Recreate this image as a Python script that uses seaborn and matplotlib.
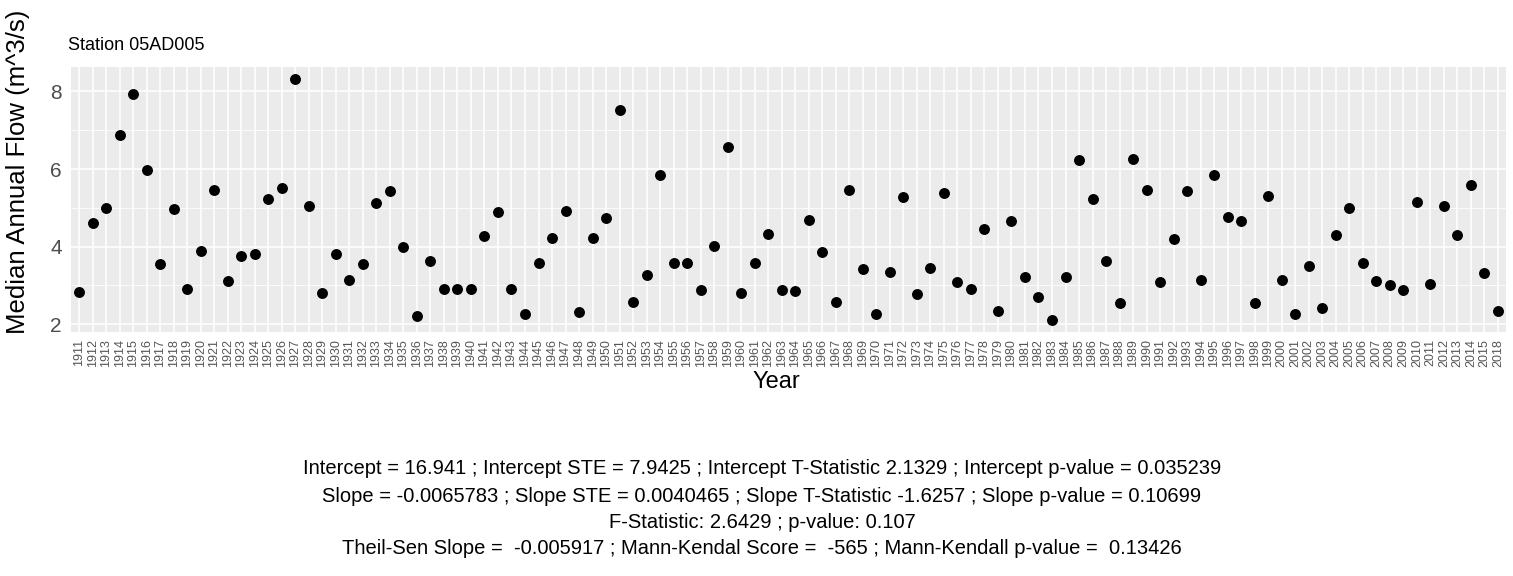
import matplotlib
matplotlib.use("Agg")
import matplotlib.pyplot as plt
import seaborn as sns
import pandas as pd

# Annual median flow, station 05AD005
years = [str(y) for y in range(1911, 2016)] + ["2018"]
flows = [
    2.84, 4.62, 5.00, 6.88, 7.93, 5.97, 3.54, 4.97, 2.92, 3.89,   # 1911-1920
    5.46, 3.12, 3.77, 3.81, 5.23, 5.51, 8.32, 5.04, 2.80, 3.80,   # 1921-1930
    3.15, 3.54, 5.12, 5.43, 4.00, 2.20, 3.62, 2.92, 2.92, 2.90,   # 1931-1940
    4.27, 4.89, 2.92, 2.26, 3.58, 4.23, 4.92, 2.31, 4.23, 4.74,   # 1941-1950
    7.51, 2.58, 3.27, 5.85, 3.58, 3.58, 2.89, 4.01, 6.58, 2.80,   # 1951-1960
    3.58, 4.32, 2.89, 2.85, 4.69, 3.85, 2.57, 5.46, 3.43, 2.26,   # 1961-1970
    3.35, 5.27, 2.77, 3.46, 5.38, 3.08, 2.92, 4.46, 2.34, 4.66,   # 1971-1980
    3.23, 2.69, 2.11, 3.23, 6.24, 5.23, 3.62, 2.54, 6.27, 5.46,   # 1981-1990
    3.08, 4.19, 5.43, 3.15, 5.85, 4.77, 4.66, 2.54, 5.31, 3.15,   # 1991-2000
    2.26, 3.50, 2.43, 4.31, 5.00, 3.58, 3.12, 3.00, 2.89, 5.15,   # 2001-2010
    3.04, 5.04, 4.31, 5.58, 3.31,                                 # 2011-2015
    2.35,                                                         # 2018
]
y_ticks = [2, 4, 6, 8]
y_minor = [3, 5, 7]

title_text = "Station 05AD005"
x_label = "Year"
y_label = "Median Annual Flow (m^3/s)"
caption_lines = [
    "Intercept = 16.941 ; Intercept STE = 7.9425 ; Intercept T-Statistic 2.1329 ; Intercept p-value = 0.035239",
    "Slope = -0.0065783 ; Slope STE = 0.0040465 ; Slope T-Statistic -1.6257 ; Slope p-value = 0.10699",
    "F-Statistic: 2.6429 ; p-value: 0.107",
    "Theil-Sen Slope =  -0.005917 ; Mann-Kendal Score =  -565 ; Mann-Kendall p-value =  0.13426",
]

df = pd.DataFrame({"Year": pd.Categorical(years, categories=years, ordered=True),
                   "Flow": flows})

sns.set_theme(style="darkgrid")
plt.rcParams["font.family"] = ["Liberation Sans", "DejaVu Sans"]

W, H, DPI = 1513, 576, 100
fig = plt.figure(figsize=(W / DPI, H / DPI), dpi=DPI)
fig.patch.set_facecolor("white")

# panel box in pixels: left, top, right, bottom
L, T, R, B = 71, 67, 1506, 332
ax = fig.add_axes([L / W, 1 - B / H, (R - L) / W, (B - T) / H])
ax.set_facecolor("#EBEBEB")

sns.scatterplot(data=df, x="Year", y="Flow", ax=ax, color="black",
                s=62, edgecolor="black", linewidth=0, zorder=3)

n = len(years)
ax.set_xlim(-0.6, n - 1 + 0.6)
lo, hi = min(flows), max(flows)
pad = (hi - lo) * 0.05
ax.set_ylim(lo - pad, hi + pad)

ax.set_xticks(range(n))
ax.set_xticklabels(years, rotation=90, fontsize=9, color="#555555")
ax.set_yticks(y_ticks)
ax.set_yticklabels([str(v) for v in y_ticks], fontsize=15, color="#4D4D4D")
ax.set_yticks(y_minor, minor=True)

ax.grid(which="major", color="white", linewidth=1.1)
ax.grid(which="minor", axis="y", color="white", linewidth=0.55)
ax.tick_params(axis="both", which="major", length=3.5, width=0.8, color="#333333",
               direction="out", pad=1.5)
ax.tick_params(axis="y", which="minor", length=0)
ax.tick_params(axis="y", which="major", pad=3)
for sp in ax.spines.values():
    sp.set_visible(False)

ax.set_xlabel(x_label, fontsize=17, color="black")
ax.set_ylabel(y_label, fontsize=18.5, color="black")
# label centres in pixel coordinates
ax.xaxis.set_label_coords((776 - L) / (R - L), (B - 382) / (B - T))
ax.yaxis.set_label_coords((18 - L) / (R - L), (B - 172) / (B - T))
ax.xaxis.label.set_va("center")
ax.yaxis.label.set_va("center")

fig.text(68 / W, 1 - 45 / H, title_text, fontsize=13, color="black",
         ha="left", va="center")

cap_y = [469, 497, 523, 549]
for line, yy in zip(caption_lines, cap_y):
    fig.text(762 / W, 1 - yy / H, line, fontsize=14.5, color="black",
             ha="center", va="center")

fig.savefig("out.png", dpi=DPI, facecolor="white")
